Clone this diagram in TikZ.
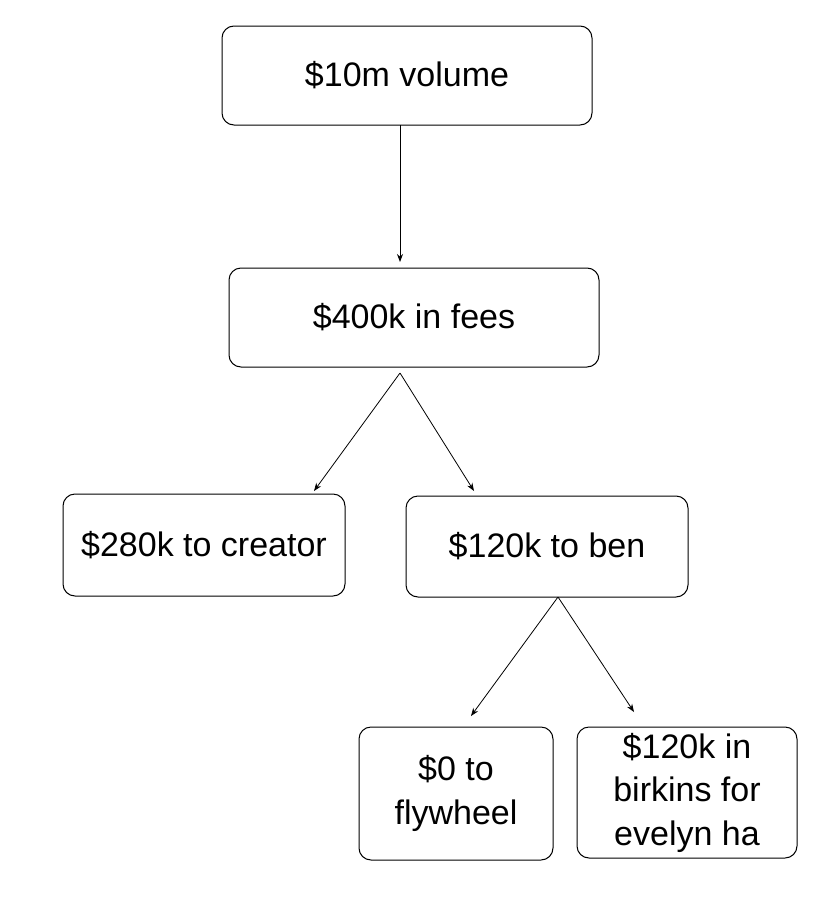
\documentclass[tikz,border=0pt]{standalone}
\usepackage{fontspec}
\setmainfont{Liberation Sans}
\usetikzlibrary{arrows.meta}
\begin{document}
\begin{tikzpicture}[x=1pt,y=-1pt,
  box/.style={draw, rounded corners=12pt, line width=1pt, align=center, inner sep=0pt,
    font=\fontsize{34}{43.5}\selectfont},
  arr/.style={line width=0.8pt, -{Stealth[length=8pt,width=6pt]}}]
\useasboundingbox (0,0) rectangle (812,897);
\node[box, minimum width=370pt, minimum height=99pt] (a) at (407,75.5) {\$10m volume};
\node[box, minimum width=370pt, minimum height=99pt] (b) at (414,317.5) {\$400k in fees};
\node[box, minimum width=282pt, minimum height=102pt] (c) at (204,545) {\$280k to creator};
\node[box, minimum width=282pt, minimum height=101pt] (d) at (547,546.5) {\$120k to ben};
\node[box, minimum width=194pt, minimum height=133pt] (e) at (456,793.5) {\$0 to\\flywheel};
\node[box, minimum width=220pt, minimum height=131pt] (f) at (687,792.5) {\$120k in\\birkins for\\evelyn ha};
\coordinate (a1) at (400,125);
\coordinate (b0) at (400,262);
\coordinate (b1) at (400,373);
\coordinate (c0) at (314,491);
\coordinate (d0) at (474,491);
\coordinate (d1) at (558,597);
\coordinate (e0) at (471,716);
\coordinate (f0) at (634,712);
\draw[arr] (a1) -- (b0);
\draw[arr] (b1) -- (c0);
\draw[arr] (b1) -- (d0);
\draw[arr] (d1) -- (e0);
\draw[arr] (d1) -- (f0);
\end{tikzpicture}
\end{document}
